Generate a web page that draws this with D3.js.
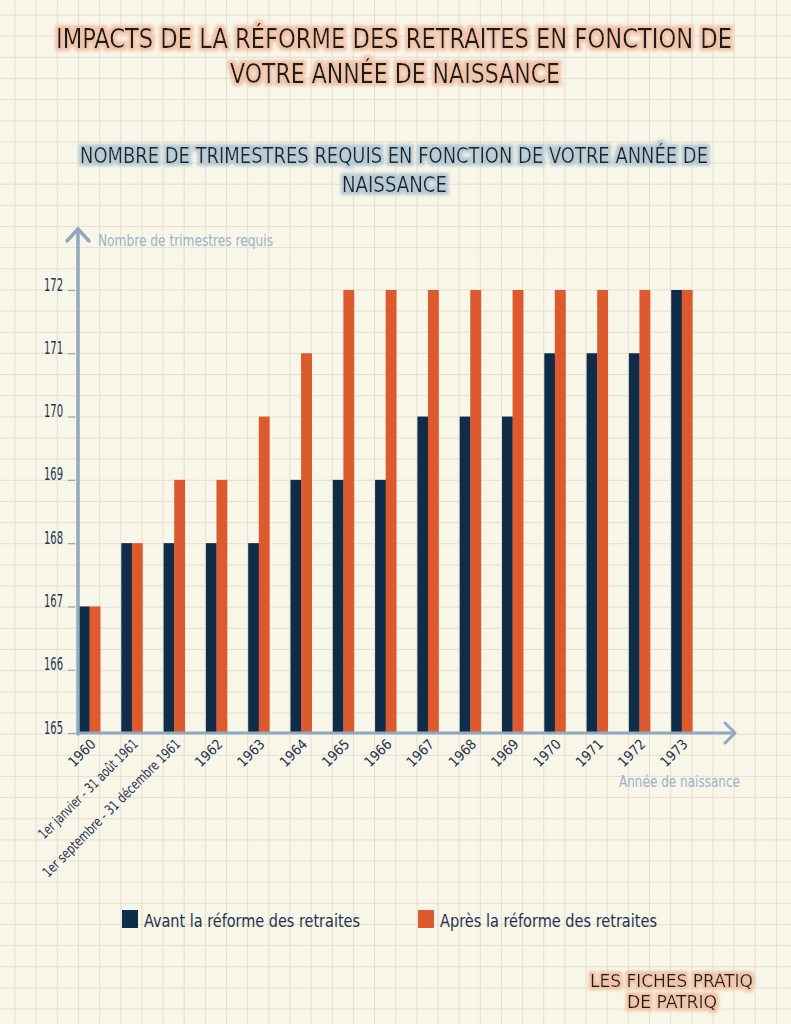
<!DOCTYPE html>
<html>
<head>
<meta charset="utf-8">
<script src="https://cdn.jsdelivr.net/npm/d3@7"></script>
<style>
html,body{margin:0;padding:0;background:#f8f5e9;}
svg{display:block;}
</style>
</head>
<body>
<svg id="chart" width="791" height="1024"></svg>
<script>
const categories = ["1960","1er janvier - 31 août 1961","1er septembre - 31 décembre 1961","1962","1963","1964","1965","1966","1967","1968","1969","1970","1971","1972","1973"];
const avant = [167,168,168,168,168,169,169,169,170,170,170,171,171,171,172];
const apres = [167,168,169,169,170,171,172,172,172,172,172,172,172,172,172];
const seriesNames = ["Avant la réforme des retraites","Après la réforme des retraites"];
const yTicks = [165,166,167,168,169,170,171,172];
const titleLines = ["IMPACTS DE LA RÉFORME DES RETRAITES EN FONCTION DE","VOTRE ANNÉE DE NAISSANCE"];
const subtitleLines = ["NOMBRE DE TRIMESTRES REQUIS EN FONCTION DE VOTRE ANNÉE DE","NAISSANCE"];
const footerLines = ["LES FICHES PRATIQ","DE PATRIQ"];

const W = 791, H = 1024;
const NAVY = "#0f2c48", ORANGE = "#dd5a2e", AXIS = "#8fa9c0", LABEL = "#1d3450", SOFT = "#9db3c7";
const FONT = "'Liberation Sans Narrow','DejaVu Sans Condensed','Noto Sans',sans-serif";

const svg = d3.select("#chart");
const defs = svg.append("defs");
function glow(id, color, r, sd){
  const f = defs.append("filter").attr("id", id).attr("x","-10%").attr("y","-40%").attr("width","120%").attr("height","180%");
  f.append("feMorphology").attr("in","SourceAlpha").attr("operator","dilate").attr("radius", r).attr("result","d");
  f.append("feFlood").attr("flood-color", color).attr("result","c");
  f.append("feComposite").attr("in","c").attr("in2","d").attr("operator","in").attr("result","g");
  f.append("feGaussianBlur").attr("in","g").attr("stdDeviation", sd).attr("result","b");
  const m = f.append("feMerge");
  m.append("feMergeNode").attr("in","b");
  m.append("feMergeNode").attr("in","SourceGraphic");
}
glow("peach", "#f1c3a9", 2.5, 1.8);
glow("blue", "#b7cbd4", 2.5, 1.8);

// background + grid
svg.append("rect").attr("width", W).attr("height", H).attr("fill", "#f8f5e9");
const step = 21.15, off = 15;
const grid = svg.append("g").attr("stroke", "#e4e0cd").attr("stroke-width", 1);
for (let x = off; x < W; x += step) grid.append("line").attr("x1", x).attr("x2", x).attr("y1", 0).attr("y2", H);
for (let y = off; y < H; y += step) grid.append("line").attr("y1", y).attr("y2", y).attr("x1", 0).attr("x2", W);

function textBlock(lines, specs, filter, color){
  lines.forEach((t, i) => {
    const s = specs[i];
    svg.append("text").attr("x", s.cx).attr("y", s.y).attr("text-anchor","middle")
      .attr("font-family", FONT).attr("font-size", s.fs).attr("fill", color)
      .attr("textLength", s.len).attr("lengthAdjust","spacingAndGlyphs")
      .attr("filter", `url(#${filter})`).text(t);
  });
}
textBlock(titleLines, [{cx:394,y:48,fs:27,len:676},{cx:395,y:83,fs:27,len:330}], "peach", "#1f1f1f");
textBlock(subtitleLines, [{cx:394,y:163,fs:22,len:628},{cx:394.5,y:192,fs:22,len:105}], "blue", "#1c2731");
textBlock(footerLines, [{cx:671.5,y:987,fs:18,len:163},{cx:672,y:1008,fs:18,len:90}], "peach", "#1f1f1f");

// scales
const x0 = d3.scaleBand().domain(categories).range([79, 79 + 42.3 * 14.5]).paddingInner(0.5).paddingOuter(0).align(0);
const x1 = d3.scaleBand().domain([0,1]).range([0, x0.bandwidth()]);
const y = d3.scaleLinear().domain([165,172]).range([733, 290]);

// bars
const g = svg.append("g");
categories.forEach((c, i) => {
  [avant[i], apres[i]].forEach((v, k) => {
    g.append("rect").attr("x", x0(c) + x1(k)).attr("width", x1.bandwidth() + 0.3)
      .attr("y", y(v)).attr("height", y(165) - y(v)).attr("fill", k === 0 ? NAVY : ORANGE);
  });
});

// y axis
const yAxis = d3.axisLeft(y).tickValues(yTicks).tickSize(7).tickPadding(6).tickFormat(d3.format("d"));
const ya = svg.append("g").attr("transform", "translate(75,0)").call(yAxis);
ya.select(".domain").remove();
ya.selectAll(".tick line").attr("stroke", AXIS).attr("stroke-width", 1.2);
ya.selectAll(".tick text").attr("font-family", FONT).attr("font-size", 17).attr("fill", LABEL)
  .attr("dy", "0").attr("textLength", 19).attr("lengthAdjust","spacingAndGlyphs");
ya.selectAll(".tick text").attr("x", -12);

// axis lines with arrows
const axisG = svg.append("g").attr("stroke", AXIS).attr("fill","none").attr("stroke-linecap","round").attr("stroke-linejoin","round");
axisG.append("line").attr("x1", 78).attr("x2", 78).attr("y1", 734).attr("y2", 229).attr("stroke-width", 3.5);
axisG.append("polyline").attr("points", "67,241 78,229 89,241").attr("stroke-width", 3.5);
axisG.append("line").attr("x1", 77).attr("x2", 734).attr("y1", 733).attr("y2", 733).attr("stroke-width", 3);
axisG.append("polyline").attr("points", "725,723 735,733 725,743").attr("stroke-width", 3);

// x labels
const longLen = {"1er janvier - 31 août 1961": 134, "1er septembre - 31 décembre 1961": 188};
const xAxis = d3.axisBottom(x0).tickSize(0).tickPadding(0);
const xa = svg.append("g").attr("transform", "translate(0,733)").call(xAxis);
xa.select(".domain").remove();
xa.selectAll(".tick text")
  .attr("font-family", FONT).attr("font-size", 14).attr("fill", LABEL)
  .attr("text-anchor", "end").attr("dy", 0).attr("y", 0)
  .attr("transform", "translate(7,12) rotate(-45)")
  .each(function(d){ if (longLen[d]) d3.select(this).attr("textLength", longLen[d]).attr("lengthAdjust","spacingAndGlyphs"); });

// axis titles
svg.append("text").attr("x", 98).attr("y", 246).attr("font-family", FONT).attr("font-size", 15)
  .attr("fill", SOFT).attr("textLength", 175).attr("lengthAdjust","spacingAndGlyphs").text("Nombre de trimestres requis");
svg.append("text").attr("x", 619).attr("y", 787).attr("font-family", FONT).attr("font-size", 15)
  .attr("fill", SOFT).attr("textLength", 121).attr("lengthAdjust","spacingAndGlyphs").text("Année de naissance");

// legend
const legend = [{x:122, tx:144, len:216, c:NAVY},{x:418, tx:440, len:217, c:ORANGE}];
legend.forEach((l, i) => {
  svg.append("rect").attr("x", l.x).attr("y", 910).attr("width", 16).attr("height", 18).attr("fill", l.c);
  svg.append("text").attr("x", l.tx).attr("y", 927).attr("font-family", FONT).attr("font-size", 18)
    .attr("fill", LABEL).attr("textLength", l.len).attr("lengthAdjust","spacingAndGlyphs").text(seriesNames[i]);
});
</script>
</body>
</html>
